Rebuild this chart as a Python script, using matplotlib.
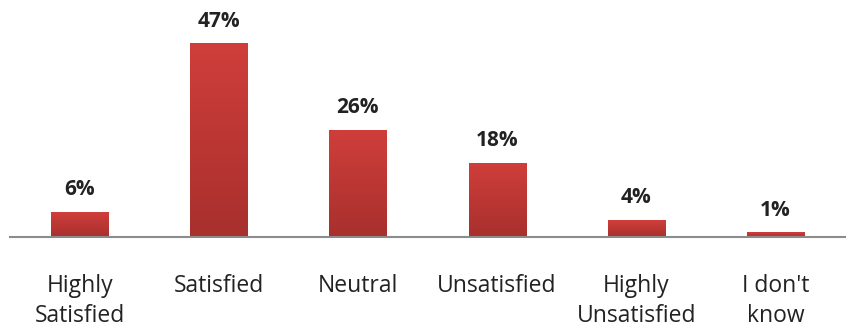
import matplotlib.pyplot as plt
import numpy as np
from matplotlib.colors import LinearSegmentedColormap

categories = ["Highly\nSatisfied", "Satisfied", "Neutral", "Unsatisfied",
              "Highly\nUnsatisfied", "I don't\nknow"]
values = [6, 47, 26, 18, 4, 1]

plt.rcParams['font.family'] = ['Open Sans', 'DejaVu Sans']

fig = plt.figure(figsize=(8.54, 3.31), dpi=100)
ax = fig.add_axes([10 / 854, 1 - 237 / 331, 835 / 854, 237 / 331])

x = np.arange(len(values))
width = 0.41
bars = ax.bar(x, values, width=width, color='none', zorder=2)

# vertical red gradient inside each bar
grad = LinearSegmentedColormap.from_list('red_grad', ['#a8302d', '#cf3e3b'])
g = np.linspace(0, 1, 100).reshape(-1, 1)
for b in bars:
    x0, y0 = b.get_x(), b.get_y()
    w, h = b.get_width(), b.get_height()
    ax.imshow(g, cmap=grad, aspect='auto', origin='lower',
              extent=[x0, x0 + w, y0, y0 + h], zorder=2)

for xi, v in zip(x, values):
    ax.text(xi, v + 3.0, f"{v}%", ha='center', va='bottom',
            fontsize=15, fontweight='bold', color='#222222')

ax.set_xlim(-0.5, len(values) - 0.5)
ax.set_ylim(0, 57.7)
ax.set_xticks(x)
ax.set_xticklabels(categories, fontsize=16.5, color='#222222',
                   linespacing=1.3, va='top')
ax.tick_params(axis='x', length=0, pad=27)
ax.set_yticks([])
for s in ['top', 'left', 'right']:
    ax.spines[s].set_visible(False)
ax.spines['bottom'].set_color('#8c8c8c')
ax.spines['bottom'].set_linewidth(1.5)
ax.spines['bottom'].set_zorder(3)

fig.savefig('out.png', dpi=100)
